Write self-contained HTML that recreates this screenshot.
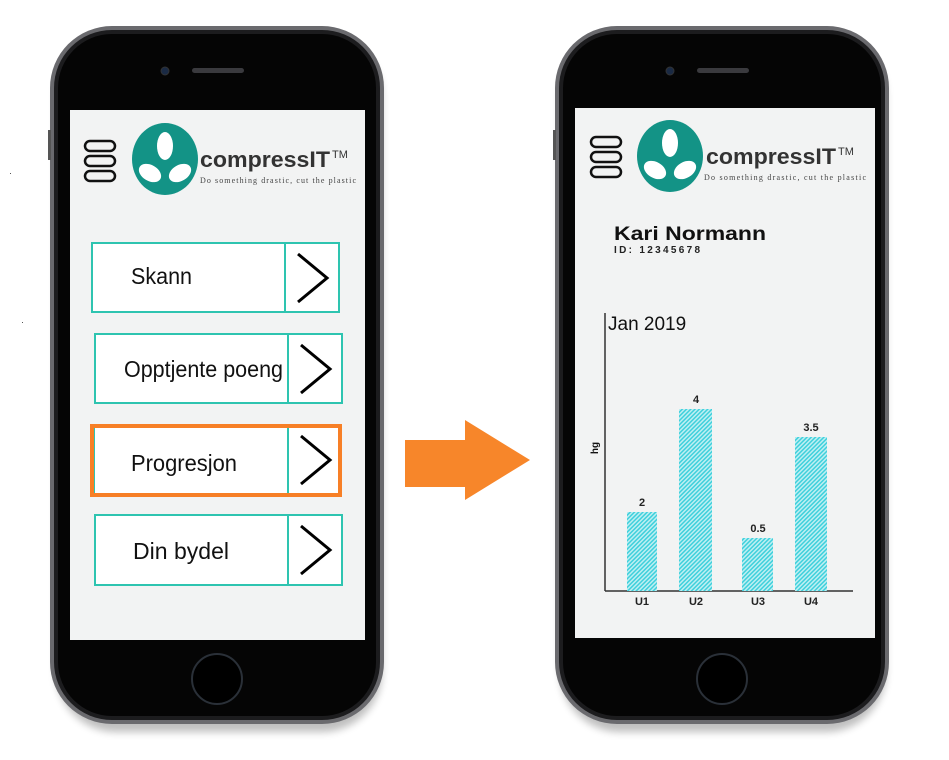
<!DOCTYPE html>
<html><head><meta charset="utf-8"><style>
body{margin:0;background:#fff;}
svg{display:block}
text{font-family:"Liberation Sans",sans-serif}
</style></head><body>
<svg width="949" height="760" viewBox="0 0 949 760" xmlns="http://www.w3.org/2000/svg">
<defs>
<pattern id="hatch" width="3" height="3" patternUnits="userSpaceOnUse" patternTransform="rotate(45)">
<rect width="3" height="3" fill="#bfeff2"/><rect width="1.5" height="3" fill="#3fd0dc"/>
</pattern>
<filter id="sh" x="-10%" y="-10%" width="120%" height="120%"><feGaussianBlur stdDeviation="4"/></filter>
</defs>
<rect x="56" y="36" width="326" height="696" rx="60" fill="#000" opacity="0.25" filter="url(#sh)"/>
<rect x="560" y="36" width="326" height="696" rx="60" fill="#000" opacity="0.25" filter="url(#sh)"/>
<!-- left phone -->
<rect x="50" y="26" width="334" height="698" rx="62" fill="#6a6a6e"/>
<rect x="54" y="30" width="326" height="690" rx="58" fill="#1c1c1e"/>
<rect x="58" y="34" width="318" height="682" rx="54" fill="#050505"/>
<rect x="48" y="130" width="3" height="30" fill="#555"/>
<circle cx="165" cy="71" r="4" fill="#1a2a44" stroke="#333"/>
<rect x="192" y="68" width="52" height="5" rx="2.5" fill="#3a3a3e"/>
<rect x="70" y="110" width="295" height="530" fill="#f2f3f3"/>
<circle cx="217" cy="679" r="25" fill="#000" stroke="#2a3038" stroke-width="2"/>
<!-- right phone -->
<rect x="555" y="26" width="334" height="698" rx="62" fill="#6a6a6e"/>
<rect x="559" y="30" width="326" height="690" rx="58" fill="#1c1c1e"/>
<rect x="563" y="34" width="318" height="682" rx="54" fill="#050505"/>
<rect x="553" y="130" width="3" height="30" fill="#555"/>
<circle cx="670" cy="71" r="4" fill="#1a2a44" stroke="#333"/>
<rect x="697" y="68" width="52" height="5" rx="2.5" fill="#3a3a3e"/>
<rect x="575" y="108" width="300" height="530" fill="#f2f3f3"/>
<circle cx="722" cy="679" r="25" fill="#000" stroke="#2a3038" stroke-width="2"/>

<!-- left header -->
<g fill="none" stroke="#111" stroke-width="2.5">
<rect x="85" y="141" width="30" height="10" rx="5"/><rect x="85" y="156" width="30" height="10" rx="5"/><rect x="85" y="171" width="30" height="10" rx="5"/>
</g>
<ellipse cx="165" cy="159" rx="33" ry="36" fill="#139386"/>
<g fill="#fff"><ellipse cx="165" cy="146" rx="8" ry="14"/><ellipse cx="150" cy="173" rx="12" ry="8" transform="rotate(30 150 173)"/><ellipse cx="180" cy="173" rx="12" ry="8" transform="rotate(-30 180 173)"/></g>
<text x="200" y="167" font-size="22" font-weight="bold" fill="#333" textLength="130" lengthAdjust="spacingAndGlyphs">compressIT</text>
<text x="332" y="158" font-size="11" fill="#333">TM</text>
<text x="200" y="183" font-size="8" fill="#444" textLength="156" style="font-family:'Liberation Serif',serif">Do something drastic, cut the plastic</text>

<!-- right header -->
<g fill="none" stroke="#111" stroke-width="2.5">
<rect x="591" y="137" width="30" height="10" rx="5"/><rect x="591" y="152" width="30" height="10" rx="5"/><rect x="591" y="167" width="30" height="10" rx="5"/>
</g>
<ellipse cx="670" cy="156" rx="33" ry="36" fill="#139386"/>
<g fill="#fff"><ellipse cx="670" cy="143" rx="8" ry="14"/><ellipse cx="655" cy="170" rx="12" ry="8" transform="rotate(30 655 170)"/><ellipse cx="685" cy="170" rx="12" ry="8" transform="rotate(-30 685 170)"/></g>
<text x="706" y="164" font-size="22" font-weight="bold" fill="#333" textLength="130" lengthAdjust="spacingAndGlyphs">compressIT</text>
<text x="838" y="155" font-size="11" fill="#333">TM</text>
<text x="704" y="180" font-size="8" fill="#444" textLength="162" style="font-family:'Liberation Serif',serif">Do something drastic, cut the plastic</text>

<!-- buttons -->
<g stroke="#2ec4b0" stroke-width="2" fill="#fff">
<rect x="92" y="243" width="247" height="69"/><line x1="285" y1="243" x2="285" y2="312"/>
<rect x="95" y="334" width="247" height="69"/><line x1="288" y1="334" x2="288" y2="403"/>
<rect x="94" y="426" width="247" height="69"/><line x1="288" y1="426" x2="288" y2="495"/>
<rect x="95" y="515" width="247" height="70"/><line x1="288" y1="515" x2="288" y2="585"/>
</g>
<rect x="92" y="426" width="248" height="69" fill="none" stroke="#f77f26" stroke-width="4"/>
<g fill="none" stroke="#000" stroke-width="3">
<polyline points="298,254 327,278 298,302"/>
<polyline points="301,345 330,369 301,393"/>
<polyline points="301,436 330,460 301,484"/>
<polyline points="301,526 330,550 301,574"/>
</g>
<g font-size="23" fill="#111">
<text x="131" y="284" textLength="61" lengthAdjust="spacingAndGlyphs">Skann</text>
<text x="124" y="377" textLength="159" lengthAdjust="spacingAndGlyphs">Opptjente poeng</text>
<text x="131" y="471" textLength="106" lengthAdjust="spacingAndGlyphs">Progresjon</text>
<text x="133" y="559" textLength="96" lengthAdjust="spacingAndGlyphs">Din bydel</text>
</g>

<!-- arrow -->
<polygon points="405,440 465,440 465,420 530,460 465,500 465,487 405,487" fill="#f7862a"/>

<!-- right content -->
<text x="614" y="240" font-size="19" font-weight="bold" fill="#111" textLength="152" lengthAdjust="spacingAndGlyphs">Kari Normann</text>
<text x="614" y="253" font-size="10" font-weight="bold" fill="#222" textLength="86">ID: 12345678</text>
<line x1="605" y1="313" x2="605" y2="591" stroke="#333" stroke-width="1.5"/>
<line x1="605" y1="591" x2="853" y2="591" stroke="#333" stroke-width="1.5"/>
<text x="608" y="330" font-size="19" fill="#111">Jan 2019</text>
<text x="598" y="448" font-size="10" font-weight="bold" fill="#111" transform="rotate(-90 598 448)" text-anchor="middle">hg</text>
<rect x="627" y="512" width="30" height="79" fill="url(#hatch)"/>
<rect x="679" y="409" width="33" height="182" fill="url(#hatch)"/>
<rect x="742" y="538" width="31" height="53" fill="url(#hatch)"/>
<rect x="795" y="437" width="32" height="154" fill="url(#hatch)"/>
<g font-size="11" font-weight="bold" fill="#222" text-anchor="middle">
<text x="642" y="506">2</text><text x="696" y="403">4</text><text x="758" y="532">0.5</text><text x="811" y="431">3.5</text>
<text x="642" y="605">U1</text><text x="696" y="605">U2</text><text x="758" y="605">U3</text><text x="811" y="605">U4</text>
</g>
<rect x="10" y="173" width="1" height="1" fill="#555"/>
<rect x="22" y="322" width="1" height="1" fill="#555"/>
</svg>
</body></html>
